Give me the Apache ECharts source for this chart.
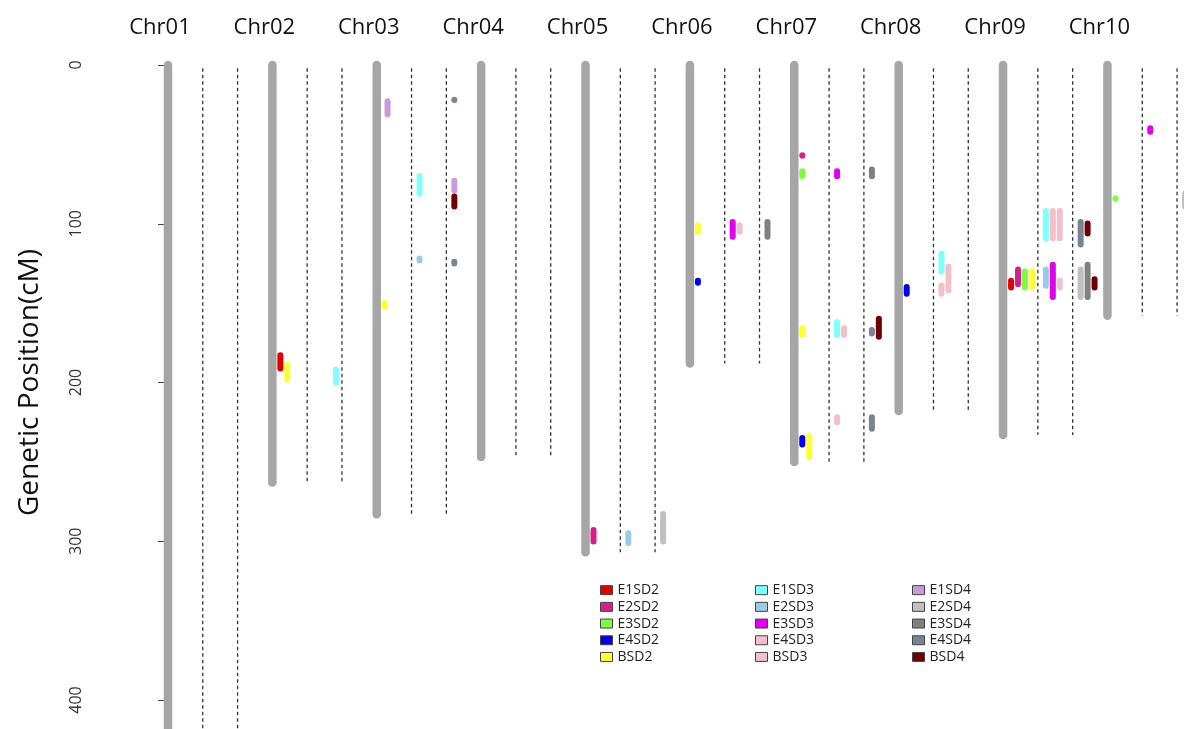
<!DOCTYPE html>
<html>
<head>
<meta charset="utf-8">
<script src="https://cdn.jsdelivr.net/npm/echarts@6/dist/echarts.min.js"></script>
<style>
html,body{margin:0;padding:0;background:#fff;}
#chart{width:1184px;height:729px;}
</style>
</head>
<body>
<div id="chart"></div>
<script>
// ---- data ----
const chrNames = ['Chr01','Chr02','Chr03','Chr04','Chr05','Chr06','Chr07','Chr08','Chr09','Chr10'];
const chrLengths = [430, 263, 283, 247, 307, 188, 250, 218, 233, 158];
const yTicks = [0, 100, 200, 300, 400];

const traitNames = ['E1SD2','E2SD2','E3SD2','E4SD2','BSD2',
                    'E1SD3','E2SD3','E3SD3','E4SD3','BSD3',
                    'E1SD4','E2SD4','E3SD4','E4SD4','BSD4'];
const traitColors = ['#e00000','#d4208a','#80fc40','#0000ee','#ffff33',
                     '#80ffff','#9ccbe8','#e000ee','#f2c0c8','#f2c0c8',
                     '#cc99dd','#c0c0c0','#808080','#7a8394','#700000'];

// QTL table: [chromosome index, column (0 bar, 1/2 dashed), lane, start cM, end cM, trait]
const qtls = [
  [1,0,1,181,193,'E1SD2'], [1,0,2,187,200,'BSD2'], [1,1,4,190,202,'E1SD3'],
  [2,0,1.4,21,33,'E1SD4'], [2,0,1,148,154,'BSD2'], [2,1,1,68,83,'E1SD3'], [2,1,1,120,125,'E2SD3'],
  [2,2,1,20,24,'E4SD4'], [2,2,1,71,81,'E1SD4'], [2,2,1,81,91,'BSD4'], [2,2,1,122,127,'E4SD4'],
  [4,0,1,291,302,'E2SD2'], [4,1,1,293,303,'E2SD3'], [4,2,1,281,302,'E2SD4'],
  [5,0,1,99,107,'BSD2'], [5,0,1,134,139,'E4SD2'], [5,1,1,97,110,'E3SD3'], [5,1,2,99,107,'E4SD3'], [5,2,1,97,110,'E3SD4'],
  [6,0,1,55,59,'E2SD2'], [6,0,1,65,72,'E3SD2'], [6,0,1,164,172,'BSD2'], [6,0,1,233,241,'E4SD2'], [6,0,2,232,249,'BSD2'],
  [6,1,1,65,72,'E3SD3'], [6,1,1,160,172,'E1SD3'], [6,1,2,164,172,'BSD3'], [6,1,1,220,227,'E4SD3'],
  [6,2,1,64,72,'E3SD4'], [6,2,1,165,171,'E4SD4'], [6,2,2,158,173,'BSD4'], [6,2,1,220,231,'E4SD4'],
  [7,0,1,138,146,'E4SD2'], [7,1,1,117,132,'E1SD3'], [7,1,1,137,146,'E4SD3'], [7,1,2,125,144,'BSD3'],
  [8,0,1,134,142,'E1SD2'], [8,0,2,127,140,'E2SD2'], [8,0,3,128,142,'E3SD2'], [8,0,4,128,142,'BSD2'],
  [8,1,1,90,111,'E1SD3'], [8,1,1,127,141,'E2SD3'], [8,1,2,90,111,'E4SD3'], [8,1,3,90,111,'BSD3'],
  [8,1,2,124,148,'E3SD3'], [8,1,3,134,142,'BSD3'],
  [8,2,1,97,115,'E4SD4'], [8,2,2,98,108,'BSD4'], [8,2,1,127,148,'E2SD4'], [8,2,2,124,148,'E3SD4'], [8,2,3,133,142,'BSD4'],
  [9,0,1,82,86,'E3SD2'], [9,1,1,38,44,'E3SD3'], [9,2,1,79,91,'E2SD4']
];

// ---- build ----
const FONT = '"Open Sans", "Noto Sans", sans-serif';
const chrData = chrNames.map((n, i) => [i * 3, chrLengths[i], n]);
const dashData = [];
chrNames.forEach((n, i) => { dashData.push([i * 3 + 1, chrLengths[i]]); dashData.push([i * 3 + 2, chrLengths[i]]); });

function laneX(q) { return q[0] * 3 + q[1] + 0.03 + q[2] * 0.2; }

function renderChr(params, api) {
  const x = api.value(0), len = api.value(1);
  const p0 = api.coord([x, 0]), p1 = api.coord([x, len]);
  return {
    type: 'group',
    children: [
      { type: 'line', shape: { x1: p0[0], y1: p0[1], x2: p1[0], y2: p1[1] },
        style: { stroke: '#a6a6a6', lineWidth: 8.5, lineCap: 'round' } },
      { type: 'text', x: p0[0] - 8, y: p0[1] - 37,
        style: { text: chrNames[params.dataIndex], fontSize: 22, fontFamily: FONT, fill: '#111',
                 align: 'center', verticalAlign: 'middle' } }
    ]
  };
}
function renderDash(params, api) {
  const x = api.value(0), len = api.value(1);
  const p0 = api.coord([x, 2]), p1 = api.coord([x, len]);
  return { type: 'line', shape: { x1: p0[0], y1: p0[1], x2: p1[0], y2: p1[1] },
           style: { stroke: '#333', lineWidth: 1.3, lineDash: [3.5, 3] } };
}
function renderQtl(params, api) {
  const x = api.value(0), s = api.value(1), e = api.value(2);
  const p1 = api.coord([x, s]), p2 = api.coord([x, e]);
  const w = 6;
  let y1 = p1[1] + w / 2, y2 = p2[1] - w / 2;
  if (y2 <= y1) { const m = (p1[1] + p2[1]) / 2; y1 = m - 0.3; y2 = m + 0.3; }
  return { type: 'line', shape: { x1: p1[0], y1: y1, x2: p1[0], y2: y2 },
           style: { stroke: api.visual('color'), lineWidth: w, lineCap: 'round' } };
}

const series = [
  { type: 'custom', name: 'chr', renderItem: renderChr, data: chrData, clip: false, silent: true, z: 2 },
  { type: 'custom', name: 'dash', renderItem: renderDash, data: dashData, clip: false, silent: true, z: 1 }
];
traitNames.forEach((t, k) => {
  series.push({
    type: 'custom', name: t, renderItem: renderQtl, clip: false, z: 3,
    itemStyle: { color: traitColors[k] },
    encode: { x: 0, y: [1, 2] },
    data: qtls.filter(q => q[5] === t).map(q => [laneX(q), q[3], q[4]])
  });
});

function legendCol(names, left) {
  return {
    orient: 'vertical', left: left, top: 583, padding: 0, icon: 'rect',
    itemWidth: 12, itemHeight: 9, itemGap: 2.4, selectedMode: false,
    itemStyle: { borderColor: '#444', borderWidth: 1 },
    textStyle: { fontFamily: FONT, fontSize: 14, color: '#222', lineHeight: 14.3 },
    data: names
  };
}

const chart = echarts.init(document.getElementById('chart'), null, { renderer: 'canvas' });
chart.setOption({
  animation: false,
  backgroundColor: '#fff',
  grid: { left: 113, right: 0, top: 65, bottom: 29 },
  xAxis: { type: 'value', min: -1.58, max: 29.2, show: false },
  yAxis: {
    type: 'value', inverse: true, min: yTicks[0], max: yTicks[yTicks.length - 1], interval: 100,
    name: 'Genetic Position(cM)', nameLocation: 'middle', nameGap: 69,
    nameTextStyle: { fontFamily: FONT, fontSize: 28, color: '#111' },
    axisLine: { show: true, lineStyle: { color: '#444', width: 1 } },
    axisTick: { show: true, length: 10, lineStyle: { color: '#444' } },
    axisLabel: { rotate: 90, margin: 29, fontFamily: FONT, fontSize: 16, color: '#333' },
    splitLine: { show: false }
  },
  legend: [
    legendCol(traitNames.slice(0, 5), 600),
    legendCol(traitNames.slice(5, 10), 755),
    legendCol(traitNames.slice(10, 15), 912)
  ],
  series: series
});
</script>
</body>
</html>
